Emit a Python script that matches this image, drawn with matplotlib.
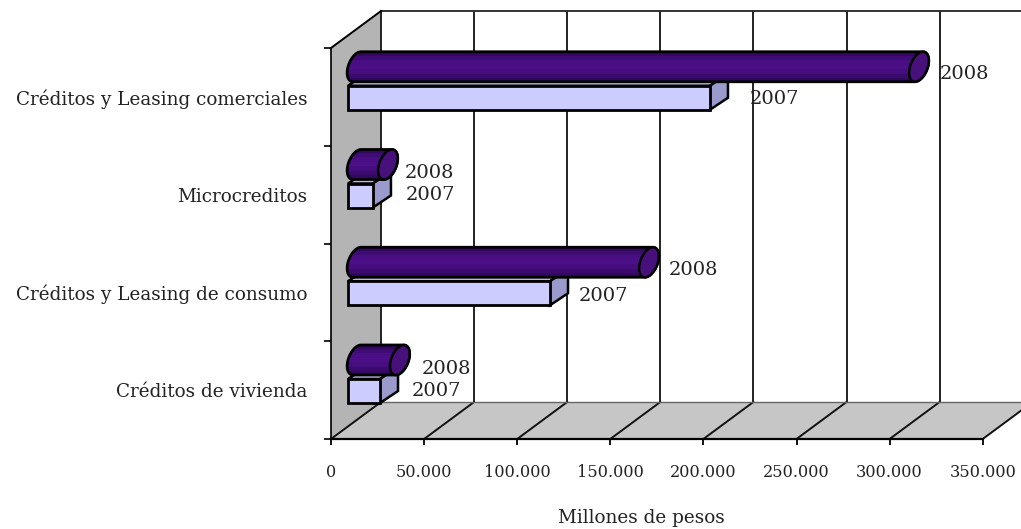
import numpy as np
import matplotlib
matplotlib.use("Agg")
import matplotlib.pyplot as plt
from matplotlib.patches import Polygon

categorias = ["Créditos de vivienda", "Créditos y Leasing de consumo",
              "Microcreditos", "Créditos y Leasing comerciales"]
valores_2007 = [17200, 108500, 13400, 194400]
valores_2008 = [23000, 156800, 16600, 301800]
ticks_x = [0, 50000, 100000, 150000, 200000, 250000, 300000, 350000]
etiquetas_x = ["0", "50.000", "100.000", "150.000", "200.000", "250.000", "300.000", "350.000"]

plt.rcParams["font.family"] = ["DejaVu Serif"]
ANCHO, ALTO = 1021, 529
fig = plt.figure(figsize=(ANCHO / 100, ALTO / 100), dpi=100)
ax = fig.add_axes([331 / ANCHO, 1 - 439 / ALTO, 651.7 / ANCHO, 391 / ALTO])
ax.set_xlim(0, 350000)
ax.set_ylim(0, 4)

# cuanto vale un pixel en unidades de datos
PX = 350000 / 651.7
PY = 4 / 391
FONDO_X = 50 * PX
FONDO_Y = 37 * PY

# pared y piso
ax.add_patch(Polygon([(0, 0), (FONDO_X, FONDO_Y), (FONDO_X, 4 + FONDO_Y), (0, 4)],
                     fc="#b4b4b4", ec="none", clip_on=False, zorder=1))
ax.add_patch(Polygon([(0, 0), (350000, 0), (350000 + FONDO_X, FONDO_Y), (FONDO_X, FONDO_Y)],
                     fc="#c6c6c6", ec="none", clip_on=False, zorder=1))

# rejilla: lineas del fondo y diagonales del piso
for t in ticks_x:
    ax.plot([t + FONDO_X, t + FONDO_X], [FONDO_Y, 4 + FONDO_Y], color="#222222", lw=1.4,
            clip_on=False, zorder=2)
    ax.plot([t, t + FONDO_X], [0, FONDO_Y], color="#111111", lw=1.4, clip_on=False, zorder=2)
ax.plot([FONDO_X, 400000], [FONDO_Y, FONDO_Y], color="#666666", lw=1, clip_on=False, zorder=2)
ax.plot([FONDO_X, 400000], [4 + FONDO_Y, 4 + FONDO_Y], color="#333333", lw=1.4, clip_on=False, zorder=2)
ax.plot([0, FONDO_X], [4, 4 + FONDO_Y], color="black", lw=1.4, clip_on=False, zorder=2)

degradado = np.array([[0.2], [0.6], [0.9], [1.0], [0.8], [0.45], [0.15]])
cmap = matplotlib.colors.LinearSegmentedColormap.from_list("morado", ["#2c0758", "#4d0f88"])


def cilindro(valor, base, z):
    # tubo morado con su tapa elipse
    cy = base + 79 * PY
    x0 = 26 * PX
    x1 = x0 + valor
    t = np.radians(np.linspace(90, 270, 30))
    izq = np.c_[x0 + (9 * np.cos(t) + 4 * np.sin(t)) * PX, cy + 15 * np.sin(t) * PY]
    t2 = np.radians(np.linspace(270, 450, 30))
    der = np.c_[x1 + (9 * np.cos(t2) + 4 * np.sin(t2)) * PX, cy + 15 * np.sin(t2) * PY]
    cuerpo = Polygon(np.r_[izq, der], fc="none", ec="black", lw=2, clip_on=False, zorder=z + 1)
    ax.add_patch(cuerpo)
    img = ax.imshow(degradado, cmap=cmap, aspect="auto", zorder=z, vmin=0, vmax=1,
                    extent=[x0 - 15 * PX, x1 + 15 * PX, cy - 16 * PY, cy + 16 * PY])
    img.set_clip_path(cuerpo.get_path(), cuerpo.get_transform())
    t3 = np.radians(np.linspace(0, 360, 60))
    tapa = np.c_[x1 + (9 * np.cos(t3) + 4 * np.sin(t3)) * PX, cy + 15 * np.sin(t3) * PY]
    ax.add_patch(Polygon(tapa, fc="#47107a", ec="black", lw=1.8, clip_on=False, zorder=z + 2))


def caja(valor, base, z):
    # barra lila con cara superior y lateral
    x0 = 17 * PX
    x1 = x0 + valor
    y0 = base + 36 * PY
    y1 = base + 60 * PY
    dx, dy = 18 * PX, 12 * PY
    ax.add_patch(Polygon([(x0, y1), (x1, y1), (x1 + dx, y1 + dy), (x0 + dx, y1 + dy)],
                         fc="#b8b8e6", ec="black", lw=1.8, clip_on=False, zorder=z))
    ax.add_patch(Polygon([(x1, y0), (x1 + dx, y0 + dy), (x1 + dx, y1 + dy), (x1, y1)],
                         fc="#9a9acc", ec="black", lw=1.8, clip_on=False, zorder=z))
    ax.add_patch(Polygon([(x0, y0), (x1, y0), (x1, y1), (x0, y1)],
                         fc="#ccccff", ec="black", lw=2, clip_on=False, zorder=z + 1))


# desplazamiento de cada etiqueta en px, a mano como en el original
dx_2008 = [22, 20, 17, 21]
dx_2007 = [32, 29, 33, 40]
dy_2008 = [-9, -8, -9, -7]
dy_2007 = [0, -3, 1, -1]

for i, cat in enumerate(categorias):
    caja(valores_2007[i], i, 10)
    cilindro(valores_2008[i], i, 14)
    x8 = 26 * PX + valores_2008[i]
    x7 = 17 * PX + valores_2007[i]
    ax.annotate("2008", (x8, i + 79 * PY), xytext=(dx_2008[i] / 1.389, dy_2008[i] / 1.389),
                textcoords="offset points", fontsize=14, color="#222222", va="center",
                annotation_clip=False, zorder=20)
    ax.annotate("2007", (x7, i + 48 * PY), xytext=(dx_2007[i] / 1.389, dy_2007[i] / 1.389),
                textcoords="offset points", fontsize=14, color="#222222", va="center",
                annotation_clip=False, zorder=20)

# ejes
ax.patch.set_visible(False)
for lado in ["top", "right"]:
    ax.spines[lado].set_visible(False)
ax.spines["left"].set_linewidth(1.2)
ax.spines["bottom"].set_linewidth(1.6)
ax.set_xticks(ticks_x)
ax.set_xticklabels(etiquetas_x, fontsize=11.6, color="#222222")
ax.tick_params(axis="x", length=4, width=1.3, pad=14)
ax.set_yticks([0, 1, 2, 3, 4])
ax.set_yticklabels([])
ax.tick_params(axis="y", length=5, width=1.2)
ax.set_yticks([0.5, 1.5, 2.5, 3.5], minor=True)
ax.set_yticklabels(categorias, minor=True, fontsize=13.2, color="#222222")
ax.tick_params(axis="y", which="minor", length=0, pad=17)
ax.set_xlabel("Millones de pesos", fontsize=13.2, color="#222222")
ax.xaxis.set_label_coords(310 / 651.7, -0.178)
ax.set_xlim(0, 350000)
ax.set_ylim(0, 4)

fig.savefig("out.png", dpi=100)
